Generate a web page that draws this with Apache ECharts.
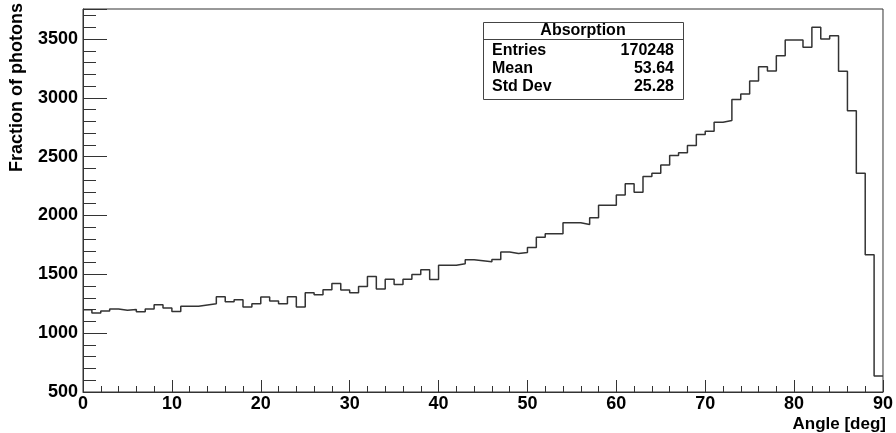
<!DOCTYPE html>
<html lang="en">
<head>
    <meta charset="UTF-8">
    <title>Absorption</title>
    <script src="https://cdn.jsdelivr.net/npm/echarts@6/dist/echarts.min.js"></script>
    <style>
        body { margin: 0; padding: 0; background: #fff; }
        #chart { width: 896px; height: 433px; }
    </style>
</head>
<body>
<div id="chart"></div>
<script>
    // histogram: 1 degree bins from 0 to 90
    const binStart = 0;
    const binWidth = 1;
    const counts = [
        1200, 1171, 1188, 1205, 1194, 1202, 1183, 1205, 1242, 1213,
        1185, 1228, 1228, 1239, 1250, 1310, 1267, 1284, 1222, 1250,
        1307, 1273, 1250, 1310, 1222, 1344, 1327, 1369, 1422, 1366,
        1344, 1397, 1482, 1375, 1459, 1414, 1459, 1499, 1539, 1456,
        1578, 1578, 1590, 1624, 1616, 1607, 1627, 1689, 1678, 1686,
        1729, 1816, 1845, 1845, 1938, 1938, 1924, 1981, 2088, 2088,
        2175, 2269, 2198, 2331, 2359, 2430, 2510, 2533, 2595, 2688,
        2716, 2793, 2807, 2985, 3033, 3144, 3265, 3228, 3358, 3491,
        3491, 3429, 3599, 3500, 3528, 3225, 2890, 2359, 1666, 636
    ];

    // stats box
    const statsTitle = 'Absorption';
    const statsNames = ['Entries', 'Mean', 'Std Dev'];
    const statsValues = ['170248', '53.64', '25.28'];

    const xTitle = 'Angle [deg]';
    const yTitle = 'Fraction of photons';

    const font = 'Liberation Sans, Arial, Helvetica, sans-serif';

    // step line points at bin low edges + closing edge
    const points = counts.map((c, i) => [binStart + i * binWidth, c]);
    points.push([binStart + counts.length * binWidth, counts[counts.length - 1]]);

    const chart = echarts.init(document.getElementById('chart'));

    const statsGraphic = [
        { type: 'rect', shape: { x: 483.5, y: 22.5, width: 200, height: 77 },
          style: { fill: '#fff', stroke: '#444', lineWidth: 1 } },
        { type: 'line', shape: { x1: 483.5, y1: 39.5, x2: 683.5, y2: 39.5 },
          style: { stroke: '#444', lineWidth: 1 } },
        { type: 'text', x: 583, y: 30.5,
          style: { text: statsTitle, font: 'bold 16px ' + font, fill: '#000', align: 'center', verticalAlign: 'middle' } }
    ];
    const rowY = [50.5, 68.5, 87];
    statsNames.forEach((name, i) => {
        statsGraphic.push({ type: 'text', x: 492, y: rowY[i],
            style: { text: name, font: 'bold 16px ' + font, fill: '#000', align: 'left', verticalAlign: 'middle' } });
        statsGraphic.push({ type: 'text', x: 674, y: rowY[i],
            style: { text: statsValues[i], font: 'bold 16px ' + font, fill: '#000', align: 'right', verticalAlign: 'middle' } });
    });

    chart.setOption({
        animation: false,
        grid: { left: 83, right: 10, top: 9, bottom: 41, show: true, borderColor: '#333', borderWidth: 1 },
        xAxis: [{
            type: 'value', min: 0, max: 90, interval: 10, position: 'bottom',
            axisLine: { show: true, onZero: false, lineStyle: { color: '#333' } },
            axisTick: { inside: true, length: 12, lineStyle: { color: '#333' } },
            axisLabel: { margin: 3, color: '#000', fontSize: 18, fontWeight: 'bold', fontFamily: font },
            splitLine: { show: false }
        }, {
            type: 'value', min: 0, max: 90, interval: 2, position: 'bottom',
            axisLine: { show: false, onZero: false },
            axisTick: { inside: true, length: 6, lineStyle: { color: '#333' } },
            axisLabel: { show: false },
            splitLine: { show: false }
        }],
        yAxis: [{
            type: 'value', min: 500, max: 3755, interval: 500, position: 'left',
            axisLine: { show: true, onZero: false, lineStyle: { color: '#333' } },
            axisTick: { inside: true, length: 24, lineStyle: { color: '#333' } },
            axisLabel: {
                margin: 5, color: '#000', fontSize: 18, fontWeight: 'bold', fontFamily: font,
                formatter: v => (v % 500 === 0 ? String(v) : '')
            },
            splitLine: { show: false }
        }, {
            type: 'value', min: 500, max: 3755, interval: 100, position: 'left',
            axisLine: { show: false, onZero: false },
            axisTick: { inside: true, length: 13, lineStyle: { color: '#333' } },
            axisLabel: { show: false },
            splitLine: { show: false }
        }],
        graphic: [
            { type: 'text', x: 17, y: 3, rotation: Math.PI / 2,
              style: { text: yTitle, font: 'bold 18px ' + font, fill: '#000', align: 'right', verticalAlign: 'middle' } },
            { type: 'text', x: 886, y: 424,
              style: { text: xTitle, font: 'bold 17px ' + font, fill: '#000', align: 'right', verticalAlign: 'middle' } }
        ].concat(statsGraphic),
        series: [{
            name: statsTitle,
            type: 'line',
            step: 'end',
            xAxisIndex: 0,
            yAxisIndex: 0,
            data: points,
            symbol: 'none',
            lineStyle: { color: '#333', width: 1.5 }
        }]
    });
</script>
</body>
</html>
